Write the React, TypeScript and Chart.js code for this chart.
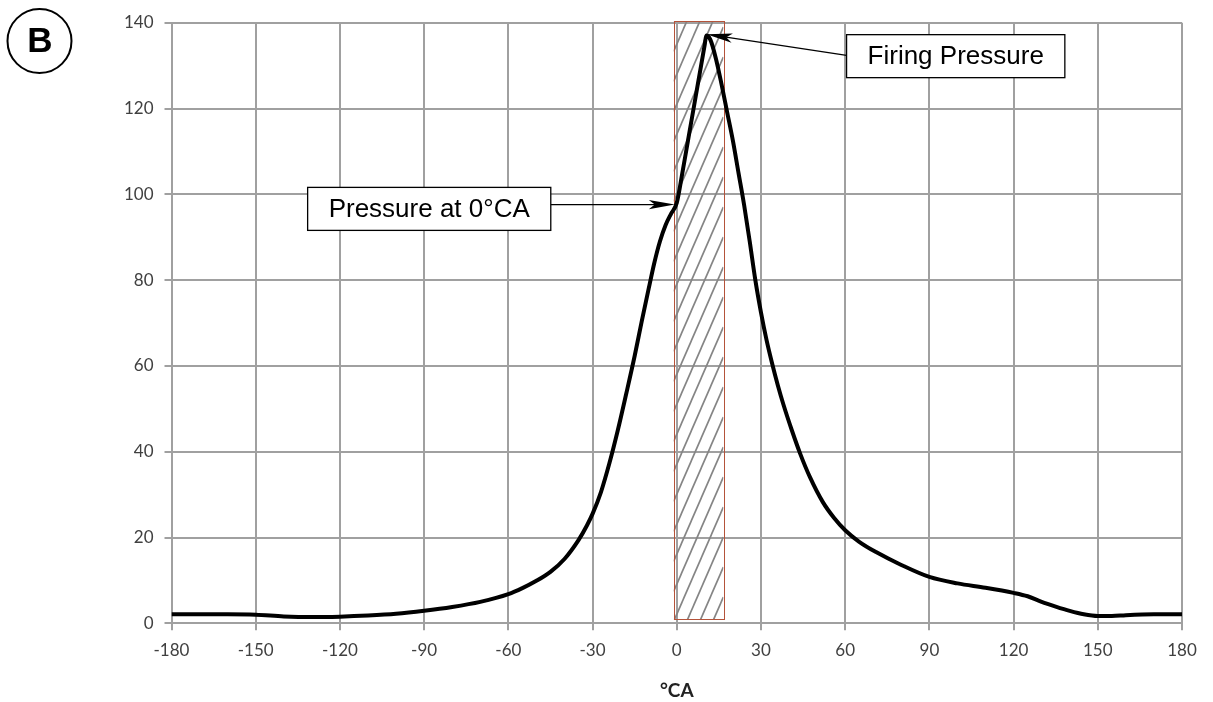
import React, { useEffect, useRef } from "react";
import { Chart, registerables } from "chart.js";

Chart.register(...registerables);

// ---- data ----
const crankAngles = [
  -180, -170, -160, -150, -140, -130, -120, -110, -100, -90, -80, -70, -60, -55, -50, -45, -40, -35,
  -32, -30, -27, -24, -21, -18, -15, -12.5, -10, -8, -6, -4, -2, 0, 2, 4, 6, 8, 10, 10.5, 12, 14, 16,
  18, 20, 22, 24, 26, 28, 30, 32, 34, 36, 38, 41, 44, 47.5, 52, 56, 60, 65, 71, 80, 90, 100, 110, 120,
  125, 130, 135, 140, 145, 150, 155, 160, 170, 180,
];
const cylinderPressure = [
  2.1, 2.1, 2.1, 2.0, 1.6, 1.45, 1.55, 1.8, 2.2, 2.9, 3.8, 5.0, 6.8, 8.2, 9.9, 12.0, 15.0, 19.4,
  22.8, 25.5, 30.6, 37.3, 45.0, 53.5, 62.3, 70.3, 78, 84, 89, 92.8, 95.5, 98, 105, 112.5, 120, 127.5,
  135, 137, 136, 131.5, 125.5, 119, 112.5, 105, 97.5, 89, 80, 72.5, 66, 60.5, 55.5, 51, 45, 39.5, 34,
  28.3, 24.6, 21.7, 19, 16.6, 13.6, 10.8, 9.3, 8.3, 7.1, 6.3, 5.0, 3.9, 2.9, 2.1, 1.7, 1.7, 1.9, 2.1,
  2.1,
];

const xAxisRange = [-180, 180];
const xAxisStep = 30;
const yAxisRange = [0, 140];
const yAxisStep = 20;
const xAxisTitle = "°CA";
const panelLetter = "B";

// hatched window (°CA, bar)
const hatchWindowX = [-1.1, 16.6];
const hatchWindowY = [0.9, 140.3];

// callouts
const calloutLabels = ["Pressure at 0°CA", "Firing Pressure"];
const calloutBoxLeftX = [-131.5, 60.5];
const calloutBoxCenterY = [96.6, 132.2];
const calloutArrowSide = ["right", "left"];
const calloutArrowStartY = [97.6, 132.4];
const calloutTargetX = [-0.7, 10.6];
const calloutTargetY = [97.6, 137.3];

const GRID = "#a0a0a0";
const TICK_FONT = "Lato";
const BOX_FONT = "'Liberation Sans', Arial, sans-serif";

function arrowHead(ctx: CanvasRenderingContext2D, fx: number, fy: number, tx: number, ty: number) {
  const ang = Math.atan2(ty - fy, tx - fx);
  const L = 26;
  const W = 4.6;
  const N = 20;
  ctx.save();
  ctx.translate(tx, ty);
  ctx.rotate(ang);
  ctx.beginPath();
  ctx.moveTo(0, 0);
  ctx.lineTo(-L, -W);
  ctx.lineTo(-N, 0);
  ctx.lineTo(-L, W);
  ctx.closePath();
  ctx.fillStyle = "#000";
  ctx.fill();
  ctx.restore();
}

const hatchPlugin = {
  id: "hatchWindow",
  beforeDatasetsDraw(chart: any) {
    const { ctx, scales } = chart;
    const xs = scales.x;
    const ys = scales.y;
    const x0 = xs.getPixelForValue(hatchWindowX[0]);
    const x1 = xs.getPixelForValue(hatchWindowX[1]);
    const yTop = ys.getPixelForValue(hatchWindowY[1]);
    const yBot = ys.getPixelForValue(hatchWindowY[0]);
    const w = x1 - x0;
    const slope = 2.3;
    const spacing = 30;
    ctx.save();
    ctx.beginPath();
    ctx.rect(x0, yTop, w, yBot - yTop);
    ctx.clip();
    ctx.strokeStyle = "#858585";
    ctx.lineWidth = 1.7;
    for (let k = yTop; k < yBot + w * slope + spacing; k += spacing) {
      ctx.beginPath();
      ctx.moveTo(x0, k);
      ctx.lineTo(x1, k - w * slope);
      ctx.stroke();
    }
    ctx.restore();
    ctx.save();
    ctx.strokeStyle = "#b4533a";
    ctx.lineWidth = 1;
    ctx.strokeRect(Math.round(x0) + 0.5, Math.round(yTop) + 0.5, Math.round(w), Math.round(yBot - yTop));
    ctx.restore();
  },
};

const calloutPlugin = {
  id: "callouts",
  afterDatasetsDraw(chart: any) {
    const { ctx, scales } = chart;
    const xs = scales.x;
    const ys = scales.y;
    ctx.save();
    ctx.font = `26px ${BOX_FONT}`;
    calloutLabels.forEach((label, i) => {
      const tw = ctx.measureText(label).width;
      const bw = tw + 42;
      const bh = 43;
      const bx = xs.getPixelForValue(calloutBoxLeftX[i]);
      const cy = ys.getPixelForValue(calloutBoxCenterY[i]);
      const by = cy - bh / 2;
      const sx = calloutArrowSide[i] === "right" ? bx + bw : bx;
      const sy = ys.getPixelForValue(calloutArrowStartY[i]);
      const tx = xs.getPixelForValue(calloutTargetX[i]);
      const ty = ys.getPixelForValue(calloutTargetY[i]);
      ctx.strokeStyle = "#000";
      ctx.lineWidth = 1.3;
      ctx.beginPath();
      ctx.moveTo(sx, sy);
      const ang = Math.atan2(ty - sy, tx - sx);
      ctx.lineTo(tx - Math.cos(ang) * 18, ty - Math.sin(ang) * 18);
      ctx.stroke();
      arrowHead(ctx, sx, sy, tx, ty);
      ctx.fillStyle = "#fff";
      ctx.fillRect(bx, by, bw, bh);
      ctx.lineWidth = 1.3;
      ctx.strokeRect(bx, by, bw, bh);
      ctx.fillStyle = "#000";
      ctx.textAlign = "center";
      ctx.textBaseline = "middle";
      ctx.fillText(label, bx + bw / 2, cy + 1);
    });
    ctx.restore();
  },
  afterDraw(chart: any) {
    const { ctx } = chart;
    ctx.save();
    ctx.beginPath();
    ctx.arc(39.5, 41, 32, 0, Math.PI * 2);
    ctx.strokeStyle = "#000";
    ctx.lineWidth = 2;
    ctx.stroke();
    ctx.fillStyle = "#000";
    ctx.font = `bold 35px ${BOX_FONT}`;
    ctx.textAlign = "center";
    ctx.textBaseline = "middle";
    ctx.fillText(panelLetter, 40, 42);
    ctx.restore();
  },
};

export default function App() {
  const canvasRef = useRef<HTMLCanvasElement | null>(null);

  useEffect(() => {
    document.body.style.margin = "0";
    const canvas = canvasRef.current;
    if (!canvas) return;
    const points = crankAngles.map((x, i) => ({ x, y: cylinderPressure[i] }));
    const chart = new Chart(canvas, {
      type: "line",
      data: {
        datasets: [
          {
            label: "Cylinder pressure",
            data: points,
            borderColor: "#000",
            borderWidth: 4,
            pointRadius: 0,
            fill: false,
            tension: 0.4,
            cubicInterpolationMode: "monotone",
          },
        ],
      },
      options: {
        animation: false,
        responsive: false,
        devicePixelRatio: 1,
        layout: { padding: { left: 0, top: 22.7, right: 31, bottom: 0 } },
        plugins: {
          legend: { display: false },
          tooltip: { enabled: false },
        },
        scales: {
          x: {
            type: "linear",
            min: xAxisRange[0],
            max: xAxisRange[1],
            afterFit: (scale: any) => {
              scale.height = 78.7;
            },
            ticks: {
              stepSize: xAxisStep,
              color: "#404040",
              font: { family: TICK_FONT, size: 17 },
              padding: 10,
              maxRotation: 0,
            },
            grid: { color: GRID, lineWidth: 2, tickLength: 7, drawTicks: true },
            border: { color: GRID, width: 2 },
            title: {
              display: true,
              text: xAxisTitle,
              color: "#222",
              font: { family: TICK_FONT, size: 19, weight: "bold" },
              padding: { top: 0, bottom: 0 },
            },
          },
          y: {
            type: "linear",
            min: yAxisRange[0],
            max: yAxisRange[1],
            afterFit: (scale: any) => {
              scale.width = 171.5;
            },
            ticks: {
              stepSize: yAxisStep,
              color: "#404040",
              font: { family: TICK_FONT, size: 17 },
              padding: 11,
            },
            grid: { color: GRID, lineWidth: 2, tickLength: 7, drawTicks: true },
            border: { color: GRID, width: 2 },
          },
        },
      },
      plugins: [hatchPlugin, calloutPlugin],
    } as any);
    return () => chart.destroy();
  }, []);

  return (
    <div style={{ position: "absolute", left: 0, top: 0, width: 1213, height: 702, background: "#fff" }}>
      <canvas ref={canvasRef} width={1213} height={702} style={{ display: "block" }} />
    </div>
  );
}
